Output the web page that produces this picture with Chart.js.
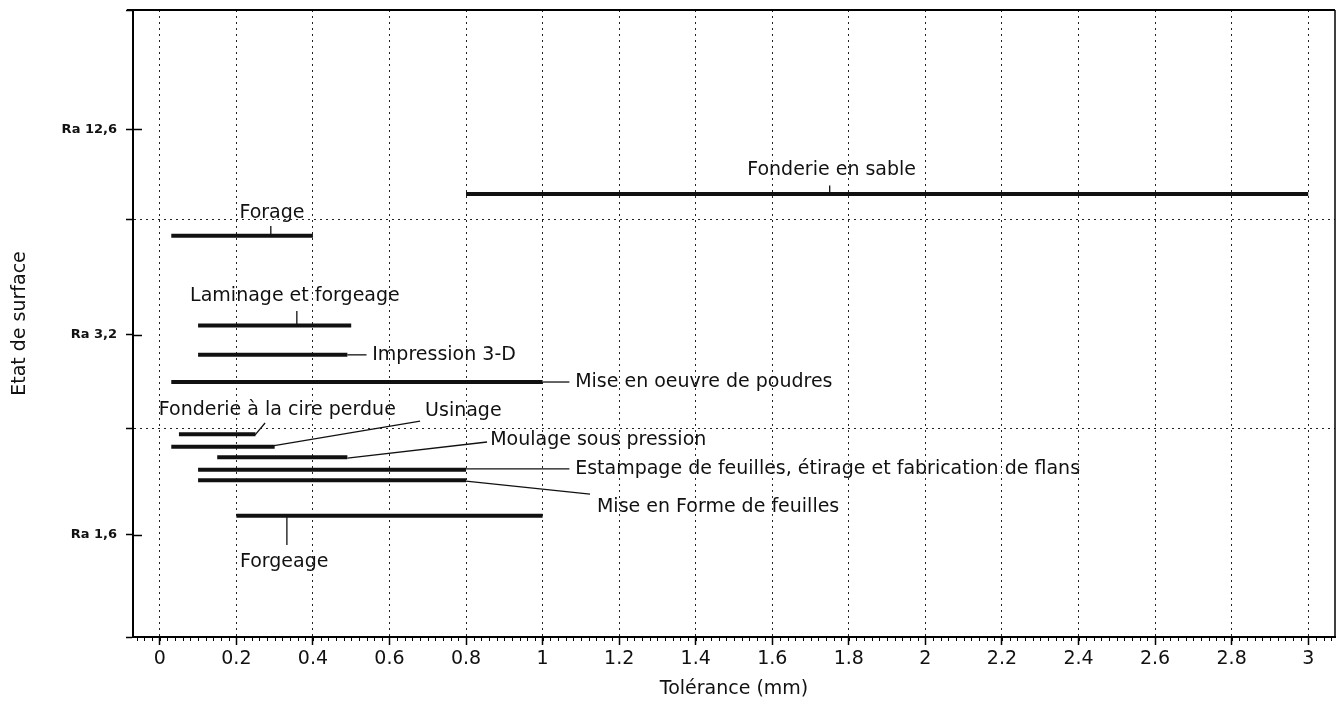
<!DOCTYPE html>
<html>
<head>
<meta charset="utf-8">
<script src="https://cdn.jsdelivr.net/npm/chart.js@4.4.1/dist/chart.umd.min.js"></script>
<style>
html, body { margin: 0; padding: 0; background: #fff; }
#wrap { width: 1343px; height: 704px; }
</style>
</head>
<body>
<div id="wrap"><canvas id="toleranceChart"></canvas></div>
<script>
// procedes et plages de tolerance (mm)
const procedes = [
    'Fonderie en sable',
    'Forage',
    'Laminage et forgeage',
    'Impression 3-D',
    'Mise en oeuvre de poudres',
    'Fonderie à la cire perdue',
    'Usinage',
    'Moulage sous pression',
    'Estampage de feuilles, étirage et fabrication de flans',
    'Mise en Forme de feuilles',
    'Forgeage'
];
const tolMin = [0.8, 0.03, 0.1, 0.1, 0.03, 0.05, 0.03, 0.15, 0.1, 0.1, 0.2];
const tolMax = [3.0, 0.4, 0.5, 0.49, 1.0, 0.25, 0.3, 0.49, 0.8, 0.8, 1.0];
// etat de surface (position sur l'axe vertical)
const etat = [2.12, 1.92, 1.49, 1.35, 1.22, 0.97, 0.91, 0.86, 0.80, 0.75, 0.58];

const xTicks = [0, 0.2, 0.4, 0.6, 0.8, 1, 1.2, 1.4, 1.6, 1.8, 2, 2.2, 2.4, 2.6, 2.8, 3];
const raLabels = ['Ra 1,6', 'Ra 3,2', 'Ra 12,6'];
const raPos = [0.49, 1.445, 2.43];
const bandLimits = [0, 1, 2, 3];

// placement des etiquettes (unites des axes)
const etiquettes = [
    { from: [1.75, 2.12], to: [1.75, 2.16], at: [1.755, 2.234], align: 'center' },
    { from: [0.29, 1.92], to: [0.29, 1.967], at: [0.293, 2.03], align: 'center' },
    { from: [0.358, 1.49], to: [0.358, 1.56], at: [0.353, 1.63], align: 'center' },
    { from: [0.49, 1.35], to: [0.54, 1.35], at: [0.555, 1.35], align: 'left' },
    { from: [1.0, 1.22], to: [1.07, 1.22], at: [1.085, 1.22], align: 'left' },
    { from: [0.249, 0.967], to: [0.275, 1.024], at: [0.307, 1.086], align: 'center' },
    { from: [0.295, 0.914], to: [0.68, 1.033], at: [0.693, 1.081], align: 'left' },
    { from: [0.49, 0.856], to: [0.855, 0.933], at: [0.863, 0.943], align: 'left' },
    { from: [0.8, 0.804], to: [1.07, 0.804], at: [1.085, 0.804], align: 'left' },
    { from: [0.8, 0.746], to: [1.124, 0.684], at: [1.142, 0.622], align: 'left' },
    { from: [0.332, 0.579], to: [0.332, 0.44], at: [0.325, 0.359], align: 'center' }
];

const FONT = '"DejaVu Sans", Verdana, sans-serif';

const datasets = procedes.map((nom, i) => ({
    label: nom,
    data: [{ x: tolMin[i], y: etat[i] }, { x: tolMax[i], y: etat[i] }],
    showLine: true,
    borderColor: '#111',
    borderWidth: 4,
    borderCapStyle: 'butt',
    pointRadius: 0,
    fill: false
}));

const decor = {
    id: 'decor',
    afterDatasetsDraw(chart) {
        const c = chart.ctx;
        const xs = chart.scales.x;
        const ys = chart.scales.y;
        const area = chart.chartArea;
        c.save();

        // cadre
        c.strokeStyle = '#000';
        c.lineWidth = 2;
        c.beginPath();
        c.moveTo(area.left - 6, area.top);
        c.lineTo(area.right, area.top);
        c.stroke();
        c.lineWidth = 1.5;
        c.beginPath();
        c.moveTo(area.right, area.top);
        c.lineTo(area.right, area.bottom);
        c.stroke();

        // petites graduations de l'axe x
        c.lineWidth = 1;
        c.beginPath();
        for (let k = -3; k <= 153; k++) {
            const px = Math.round(xs.getPixelForValue(k * 0.02)) + 0.5;
            if (px < area.left || px > area.right) continue;
            c.moveTo(px, area.bottom);
            c.lineTo(px, area.bottom + 4);
        }
        c.stroke();

        // graduations Ra qui traversent l'axe
        c.lineWidth = 1.5;
        c.beginPath();
        raPos.forEach(v => {
            const py = Math.round(ys.getPixelForValue(v)) + 0.5;
            c.moveTo(area.left, py);
            c.lineTo(area.left + 9, py);
        });
        c.stroke();

        // traits de rappel et textes
        c.lineWidth = 1.3;
        c.strokeStyle = '#111';
        c.fillStyle = '#111';
        c.font = '19px ' + FONT;
        c.textBaseline = 'middle';
        etiquettes.forEach((e, i) => {
            c.beginPath();
            c.moveTo(xs.getPixelForValue(e.from[0]), ys.getPixelForValue(e.from[1]));
            c.lineTo(xs.getPixelForValue(e.to[0]), ys.getPixelForValue(e.to[1]));
            c.stroke();
            c.textAlign = e.align;
            c.fillText(procedes[i], xs.getPixelForValue(e.at[0]), ys.getPixelForValue(e.at[1]));
        });
        c.restore();
    }
};

const config = {
    type: 'scatter',
    data: { datasets: datasets },
    options: {
        responsive: true,
        maintainAspectRatio: false,
        animation: false,
        layout: { padding: { top: 10, right: 8, left: 0, bottom: 0 } },
        plugins: {
            legend: { display: false },
            tooltip: { enabled: false }
        },
        scales: {
            x: {
                type: 'linear',
                min: -0.07,
                max: 3.07,
                afterBuildTicks: scale => { scale.ticks = xTicks.map(v => ({ value: v })); },
                afterFit: scale => { scale.height = 67; },
                ticks: {
                    color: '#111',
                    font: { family: FONT, size: 19 },
                    padding: 3,
                    maxRotation: 0,
                    autoSkip: false,
                    callback: v => String(Math.round(v * 10) / 10)
                },
                grid: {
                    color: '#222',
                    lineWidth: 1,
                    tickColor: '#000',
                    tickLength: 8,
                    tickWidth: 1.5
                },
                border: { color: '#000', width: 2, dash: [2, 4] },
                title: {
                    display: true,
                    text: 'Tolérance (mm)',
                    color: '#111',
                    font: { family: FONT, size: 19 },
                    padding: { top: 0, bottom: 4 }
                }
            },
            y: {
                type: 'linear',
                min: 0,
                max: 3,
                afterBuildTicks: scale => {
                    scale.ticks = bandLimits.concat(raPos).sort((a, b) => a - b).map(v => ({ value: v }));
                },
                afterFit: scale => {
                    scale.width = 133;
                    scale.paddingTop = 0;
                    scale.paddingBottom = 0;
                },
                ticks: {
                    color: '#111',
                    font: { family: FONT, size: 13, weight: 'bold' },
                    padding: 9,
                    autoSkip: false,
                    callback: v => {
                        const i = raPos.indexOf(v);
                        return i >= 0 ? raLabels[i] : '';
                    }
                },
                grid: {
                    color: ctx => (ctx.tick && (ctx.tick.value === 1 || ctx.tick.value === 2)) ? '#222' : 'rgba(0,0,0,0)',
                    lineWidth: 1,
                    tickColor: '#000',
                    tickLength: 7,
                    tickWidth: 1.5
                },
                border: { color: '#000', width: 2, dash: [2, 4] },
                title: {
                    display: true,
                    text: 'Etat de surface',
                    color: '#111',
                    font: { family: FONT, size: 19 },
                    padding: { top: 9, bottom: 0 }
                }
            }
        }
    },
    plugins: [decor]
};

const myChart = new Chart(document.getElementById('toleranceChart'), config);
</script>
</body>
</html>
